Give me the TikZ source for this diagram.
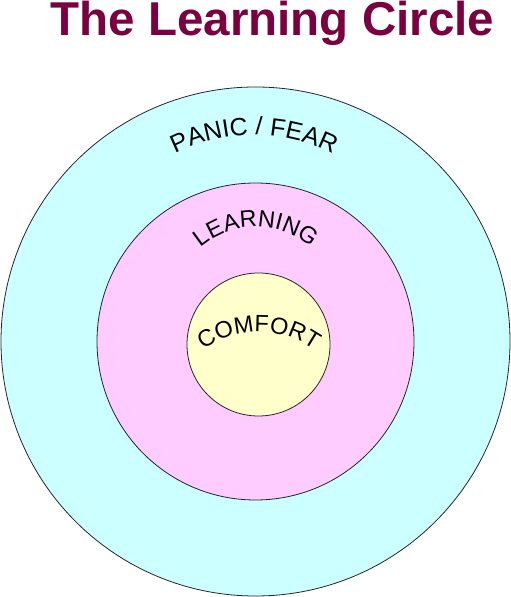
\documentclass[tikz,border=0pt]{standalone}
\usepackage{fontspec}
\setmainfont{Liberation Sans}
\usetikzlibrary{decorations.text}
\tikzset{every picture/.style={line width=0.8pt}}
\definecolor{panicblue}{RGB}{204,255,255}
\definecolor{learnpink}{RGB}{255,204,255}
\definecolor{comfortyellow}{RGB}{255,255,204}
\definecolor{titlered}{RGB}{122,0,64}

\begin{document}
\begin{tikzpicture}[x=1pt, y=1pt, every node/.style={inner sep=0pt},
    zone/.style={circle, draw=black!85, minimum size=#1},
    curved/.style 2 args={decorate, decoration={text along path, text align=center,
        text={|\fontsize{#1}{#1}\selectfont|#2}}}]
        \useasboundingbox (0,0) rectangle (511,597);
        \node[zone=509pt, fill=panicblue] (panic) at (255.5,255.5) {};
        \node[zone=317pt, fill=learnpink] (learning) at (255.5,255.5) {};
        \node[zone=143pt, fill=comfortyellow] (comfort) at (258.5,252.5) {};
        \node[anchor=base, text=titlered, font=\bfseries\fontsize{47.5}{47.5}\selectfont] (title) at (272.5,561) {The Learning Circle};
        \coordinate (panicarc) at (254,287);
        \coordinate (learnarc) at (256,285);
        \coordinate (comfortarc) at (259,170);
        \path[curved={25}{PANIC / FEAR}] (panicarc) ++(150:175) arc[start angle=150, end angle=30, radius=175];
        \path[curved={23.5}{LEARNING}] (learnarc) ++(170:85) arc[start angle=170, end angle=10, radius=85];
        \path[curved={23.5}{COMFORT}] (comfortarc) ++(155:95) arc[start angle=155, end angle=25, radius=95];
    \end{tikzpicture}
\end{document}
